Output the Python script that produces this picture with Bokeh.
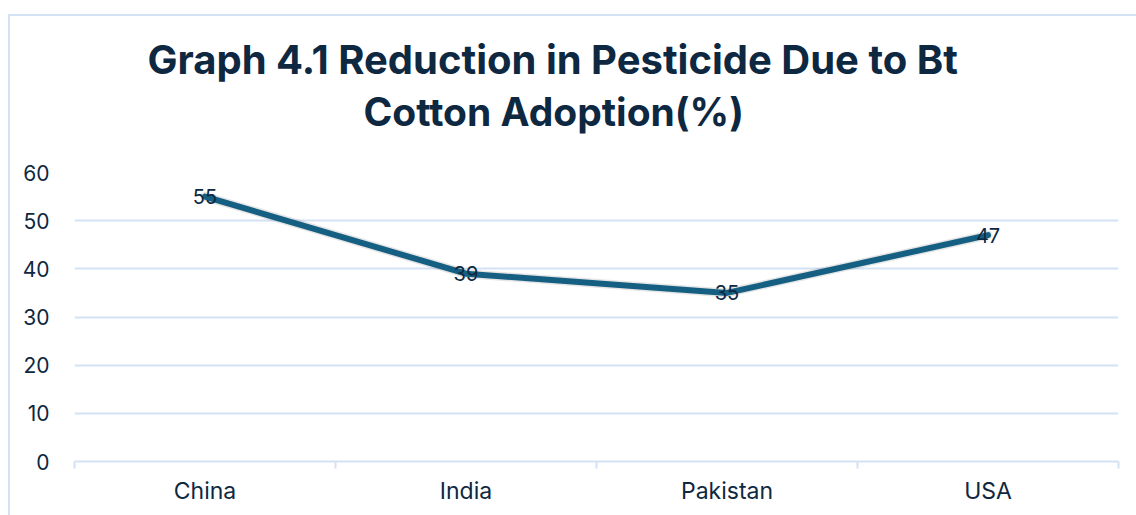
from bokeh.plotting import figure
from bokeh.models import (ColumnDataSource, FixedTicker, LabelSet, Title, InlineStyleSheet)
from bokeh.core.properties import value
from bokeh.embed import file_html
from bokeh.resources import INLINE
import numpy as np

categories = ["China", "India", "Pakistan", "USA"]
reduction = [55, 39, 35, 47]
y_ticks = [0, 10, 20, 30, 40, 50, 60]
title_lines = ["Graph 4.1 Reduction in Pesticide Due to Bt", "Cotton Adoption(%)"]

FONT = "Inter"
TXT = "#0e2841"
GRID = "#d3e2f4"
LINE = "#156082"

xpos = np.arange(len(categories)) + 0.5
src = ColumnDataSource(dict(x=xpos, y=reduction, lab=[str(v) for v in reduction]))

p = figure(width=1136, height=515, output_backend="svg", toolbar_location=None,
           x_range=(0, len(categories)), y_range=(0, 60),
           min_border_left=74, min_border_right=18, min_border_top=172, min_border_bottom=54)
p.outline_line_color = None
p.background_fill_color = "white"
p.border_fill_color = "white"

# line with soft shadow
p.line(x="x", y="y", source=src, line_color="#000000", line_alpha=0.10, line_width=9,
       line_join="round", line_cap="round")
p.line(x="x", y="y", source=src, line_color=LINE, line_width=6,
       line_join="round", line_cap="round")

labels = LabelSet(x="x", y="y", text="lab", source=src, text_align="center",
                  text_baseline="middle", text_font=value(FONT), text_font_size="20px",
                  text_color=TXT)
p.add_layout(labels)

# axes
p.xaxis.ticker = FixedTicker(ticks=list(xpos), minor_ticks=list(range(len(categories) + 1)))
p.xaxis.major_label_overrides = {float(x): c for x, c in zip(xpos, categories)}
p.xaxis.major_tick_line_color = None
p.xaxis.minor_tick_line_color = GRID
p.xaxis.minor_tick_line_width = 2
p.xaxis.minor_tick_out = 7
p.xaxis.minor_tick_in = 0
p.xaxis.axis_line_color = GRID
p.xaxis.axis_line_width = 2
p.xaxis.major_label_text_font = FONT
p.xaxis.major_label_text_font_size = "23px"
p.xaxis.major_label_text_color = TXT
p.xaxis.major_label_standoff = 8

p.yaxis.ticker = FixedTicker(ticks=y_ticks)
p.yaxis.axis_line_color = None
p.yaxis.major_tick_line_color = None
p.yaxis.minor_tick_line_color = None
p.yaxis.major_label_text_font = FONT
p.yaxis.major_label_text_font_size = "21px"
p.yaxis.major_label_text_color = TXT
p.yaxis.major_label_standoff = 19

p.xgrid.grid_line_color = None
p.ygrid.grid_line_color = GRID
p.ygrid.grid_line_width = 2

# title (two lines): second line nearest the plot, added first
offsets = [73, 289]
standoffs = [-70, 75]
sizes = ["40px", "39px"]
for i in (1, 0):
    p.add_layout(Title(text=title_lines[i], align="left", offset=offsets[i],
                       standoff=standoffs[i], text_font=FONT, text_font_style="bold",
                       text_font_size=sizes[i], text_color=TXT), "above")

# chart border (left and top edges of the chart area)
p.stylesheets.append(InlineStyleSheet(css=f"""
:host {{ position: relative; }}
:host::after {{ content: ""; position: absolute; left: 8px; top: 14px; right: 0; bottom: 0;
  border-left: 2px solid {GRID}; border-top: 2px solid {GRID}; pointer-events: none; z-index: 10; }}
"""))

open("out.html", "w").write(file_html(p, INLINE))
